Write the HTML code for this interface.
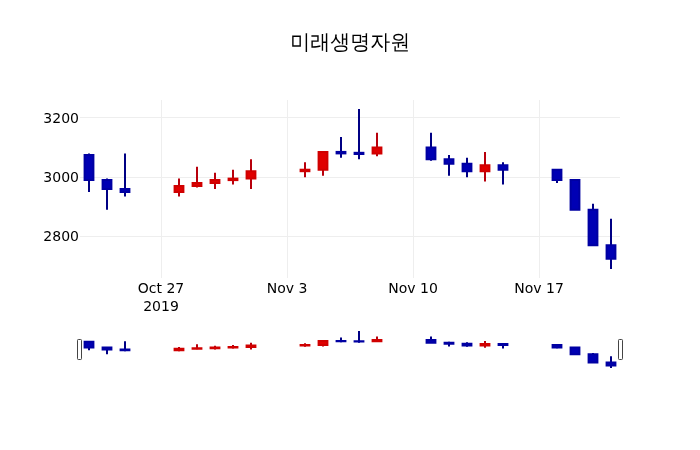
<!DOCTYPE html>
<html lang="ko">
<head>
<meta charset="utf-8">
<title>미래생명자원</title>
<style>
html,body{margin:0;padding:0;background:#fff;}
body{width:700px;height:450px;overflow:hidden;}
svg{display:block;}
.grid path{stroke:#eee;stroke-width:1px;fill:none;shape-rendering:crispEdges;}
.boxes path{stroke-width:2px;}
.boxes .u{stroke:#d00000;fill:#e00000;}
.boxes .d{stroke:#0000a2;fill:#0000b4;}
.boxes .u.w{stroke:#b8000c;fill:none;}
.boxes .d.w{stroke:#000084;fill:none;}
.ticks text{font-family:"DejaVu Sans","Liberation Sans",sans-serif;font-size:14px;fill:#000;white-space:pre;}
.title{font-family:"Liberation Sans","WenQuanYi Zen Hei","NanumGothic","Noto Sans CJK KR",sans-serif;font-size:20px;fill:#000;letter-spacing:0px;}
.handle{fill:#fff;stroke:#444;stroke-width:1;}
</style>
</head>
<body>
<svg width="700" height="450" viewBox="0 0 700 450">
<defs><clipPath id="cp"><rect width="540" height="178"/></clipPath><clipPath id="cr"><rect width="540" height="40.5"/></clipPath></defs>
<rect width="700" height="450" fill="#fff"/>
<g class="grid">
<path d="M161,100v178"/>
<path d="M287,100v178"/>
<path d="M413,100v178"/>
<path d="M539,100v178"/>
<path d="M80,236.47h540"/>
<path d="M80,177.13h540"/>
<path d="M80,117.8h540"/>
</g>
<g class="boxes" transform="translate(80,100)" clip-path="url(#cp)">
<path class="d w" d="M9,80.1V91.97M9,54.88V53.4"/>
<path class="d" d="M4.59,80.1H13.41V54.88H4.59Z"/>
<path class="d w" d="M27,89V109.77M27,80.1V78.62"/>
<path class="d" d="M22.59,89H31.41V80.1H22.59Z"/>
<path class="d w" d="M45,91.97V96.42M45,89V53.4"/>
<path class="d" d="M40.59,91.97H49.41V89H40.59Z"/>
<path class="u w" d="M99,91.97V96.42M99,86.03V78.62"/>
<path class="u" d="M94.59,91.97H103.41V86.03H94.59Z"/>
<path class="u w" d="M117,86.03V87.52M117,83.07V66.75"/>
<path class="u" d="M112.59,86.03H121.41V83.07H112.59Z"/>
<path class="u w" d="M135,83.07V89M135,80.1V72.68"/>
<path class="u" d="M130.59,83.07H139.41V80.1H130.59Z"/>
<path class="u w" d="M153,80.1V84.55M153,78.62V69.72"/>
<path class="u" d="M148.59,80.1H157.41V78.62H148.59Z"/>
<path class="u w" d="M171,78.62V89M171,71.2V59.33"/>
<path class="u" d="M166.59,78.62H175.41V71.2H166.59Z"/>
<path class="u w" d="M225,71.2V77.13M225,69.72V62.3"/>
<path class="u" d="M220.59,71.2H229.41V69.72H220.59Z"/>
<path class="u w" d="M243,69.72V75.65"/>
<path class="u" d="M238.59,69.72H247.41V51.92H238.59Z"/>
<path class="d w" d="M261,53.4V57.85M261,51.92V37.08"/>
<path class="d" d="M256.59,53.4H265.41V51.92H256.59Z"/>
<path class="d w" d="M279,53.99V59.33M279,52.81V8.9"/>
<path class="d" d="M274.59,53.99H283.41V52.81H274.59Z"/>
<path class="u w" d="M297,53.4V56.37M297,47.47V32.63"/>
<path class="u" d="M292.59,53.4H301.41V47.47H292.59Z"/>
<path class="d w" d="M351,59.33V60.82M351,47.47V32.63"/>
<path class="d" d="M346.59,59.33H355.41V47.47H346.59Z"/>
<path class="d w" d="M369,63.78V75.65M369,59.33V54.88"/>
<path class="d" d="M364.59,63.78H373.41V59.33H364.59Z"/>
<path class="d w" d="M387,71.2V77.13M387,63.78V57.85"/>
<path class="d" d="M382.59,71.2H391.41V63.78H382.59Z"/>
<path class="u w" d="M405,71.2V81.58M405,65.27V51.92"/>
<path class="u" d="M400.59,71.2H409.41V65.27H400.59Z"/>
<path class="d w" d="M423,69.72V84.55M423,65.27V62.3"/>
<path class="d" d="M418.59,69.72H427.41V65.27H418.59Z"/>
<path class="d w" d="M477,80.1V83.07"/>
<path class="d" d="M472.59,80.1H481.41V69.72H472.59Z"/>
<path class="d" d="M490.59,109.77H499.41V80.1H490.59Z"/>
<path class="d w" d="M513,109.77V103.83"/>
<path class="d" d="M508.59,145.37H517.41V109.77H508.59Z"/>
<path class="d w" d="M531,158.72V169.1M531,145.37V118.67"/>
<path class="d" d="M526.59,158.72H535.41V145.37H526.59Z"/>
</g>
<g class="ticks">
<text text-anchor="middle" x="161" y="293"><tspan x="161" dy="0">Oct 27</tspan><tspan x="161" dy="1.3em">2019</tspan></text>
<text text-anchor="middle" x="287" y="293">Nov 3</text>
<text text-anchor="middle" x="413" y="293">Nov 10</text>
<text text-anchor="middle" x="539" y="293">Nov 17</text>
<text text-anchor="end" x="79" y="241.37">2800</text>
<text text-anchor="end" x="79" y="182.03">3000</text>
<text text-anchor="end" x="79" y="122.7">3200</text>
</g>
<text class="title" transform="translate(350.3,48.57) scale(1,1.045)" x="0" y="0" text-anchor="middle">미래생명자원</text>
<g class="slider" transform="translate(80,329)">
<g class="boxes" clip-path="url(#cr)">
<path class="d w" d="M9,18.45V21.18M9,12.64V12.3"/>
<path class="d" d="M4.59,18.45H13.41V12.64H4.59Z"/>
<path class="d w" d="M27,20.5V25.28M27,18.45V18.11"/>
<path class="d" d="M22.59,20.5H31.41V18.45H22.59Z"/>
<path class="d w" d="M45,21.18V22.21M45,20.5V12.3"/>
<path class="d" d="M40.59,21.18H49.41V20.5H40.59Z"/>
<path class="u w" d="M99,21.18V22.21M99,19.82V18.11"/>
<path class="u" d="M94.59,21.18H103.41V19.82H94.59Z"/>
<path class="u w" d="M117,19.82V20.16M117,19.13V15.37"/>
<path class="u" d="M112.59,19.82H121.41V19.13H112.59Z"/>
<path class="u w" d="M135,19.13V20.5M135,18.45V16.74"/>
<path class="u" d="M130.59,19.13H139.41V18.45H130.59Z"/>
<path class="u w" d="M153,18.45V19.47M153,18.11V16.06"/>
<path class="u" d="M148.59,18.45H157.41V18.11H148.59Z"/>
<path class="u w" d="M171,18.11V20.5M171,16.4V13.67"/>
<path class="u" d="M166.59,18.11H175.41V16.4H166.59Z"/>
<path class="u w" d="M225,16.4V17.77M225,16.06V14.35"/>
<path class="u" d="M220.59,16.4H229.41V16.06H220.59Z"/>
<path class="u w" d="M243,16.06V17.43"/>
<path class="u" d="M238.59,16.06H247.41V11.96H238.59Z"/>
<path class="d w" d="M261,12.3V13.32M261,11.96V8.54"/>
<path class="d" d="M256.59,12.3H265.41V11.96H256.59Z"/>
<path class="d w" d="M279,12.44V13.67M279,12.16V2.05"/>
<path class="d" d="M274.59,12.44H283.41V12.16H274.59Z"/>
<path class="u w" d="M297,12.3V12.98M297,10.93V7.52"/>
<path class="u" d="M292.59,12.3H301.41V10.93H292.59Z"/>
<path class="d w" d="M351,13.67V14.01M351,10.93V7.52"/>
<path class="d" d="M346.59,13.67H355.41V10.93H346.59Z"/>
<path class="d w" d="M369,14.69V17.43M369,13.67V12.64"/>
<path class="d" d="M364.59,14.69H373.41V13.67H364.59Z"/>
<path class="d w" d="M387,16.4V17.77M387,14.69V13.32"/>
<path class="d" d="M382.59,16.4H391.41V14.69H382.59Z"/>
<path class="u w" d="M405,16.4V18.79M405,15.03V11.96"/>
<path class="u" d="M400.59,16.4H409.41V15.03H400.59Z"/>
<path class="d w" d="M423,16.06V19.47M423,15.03V14.35"/>
<path class="d" d="M418.59,16.06H427.41V15.03H418.59Z"/>
<path class="d w" d="M477,18.45V19.13"/>
<path class="d" d="M472.59,18.45H481.41V16.06H472.59Z"/>
<path class="d" d="M490.59,25.28H499.41V18.45H490.59Z"/>
<path class="d w" d="M513,25.28V23.92"/>
<path class="d" d="M508.59,33.48H517.41V25.28H508.59Z"/>
<path class="d w" d="M531,36.56V38.95M531,33.48V27.33"/>
<path class="d" d="M526.59,36.56H535.41V33.48H526.59Z"/>
</g>
<rect class="handle" x="-2.5" y="10.5" width="4" height="20" rx="0.8"/>
<rect class="handle" x="538.5" y="10.5" width="4" height="20" rx="0.8"/>
</g>
</svg>
</body>
</html>
